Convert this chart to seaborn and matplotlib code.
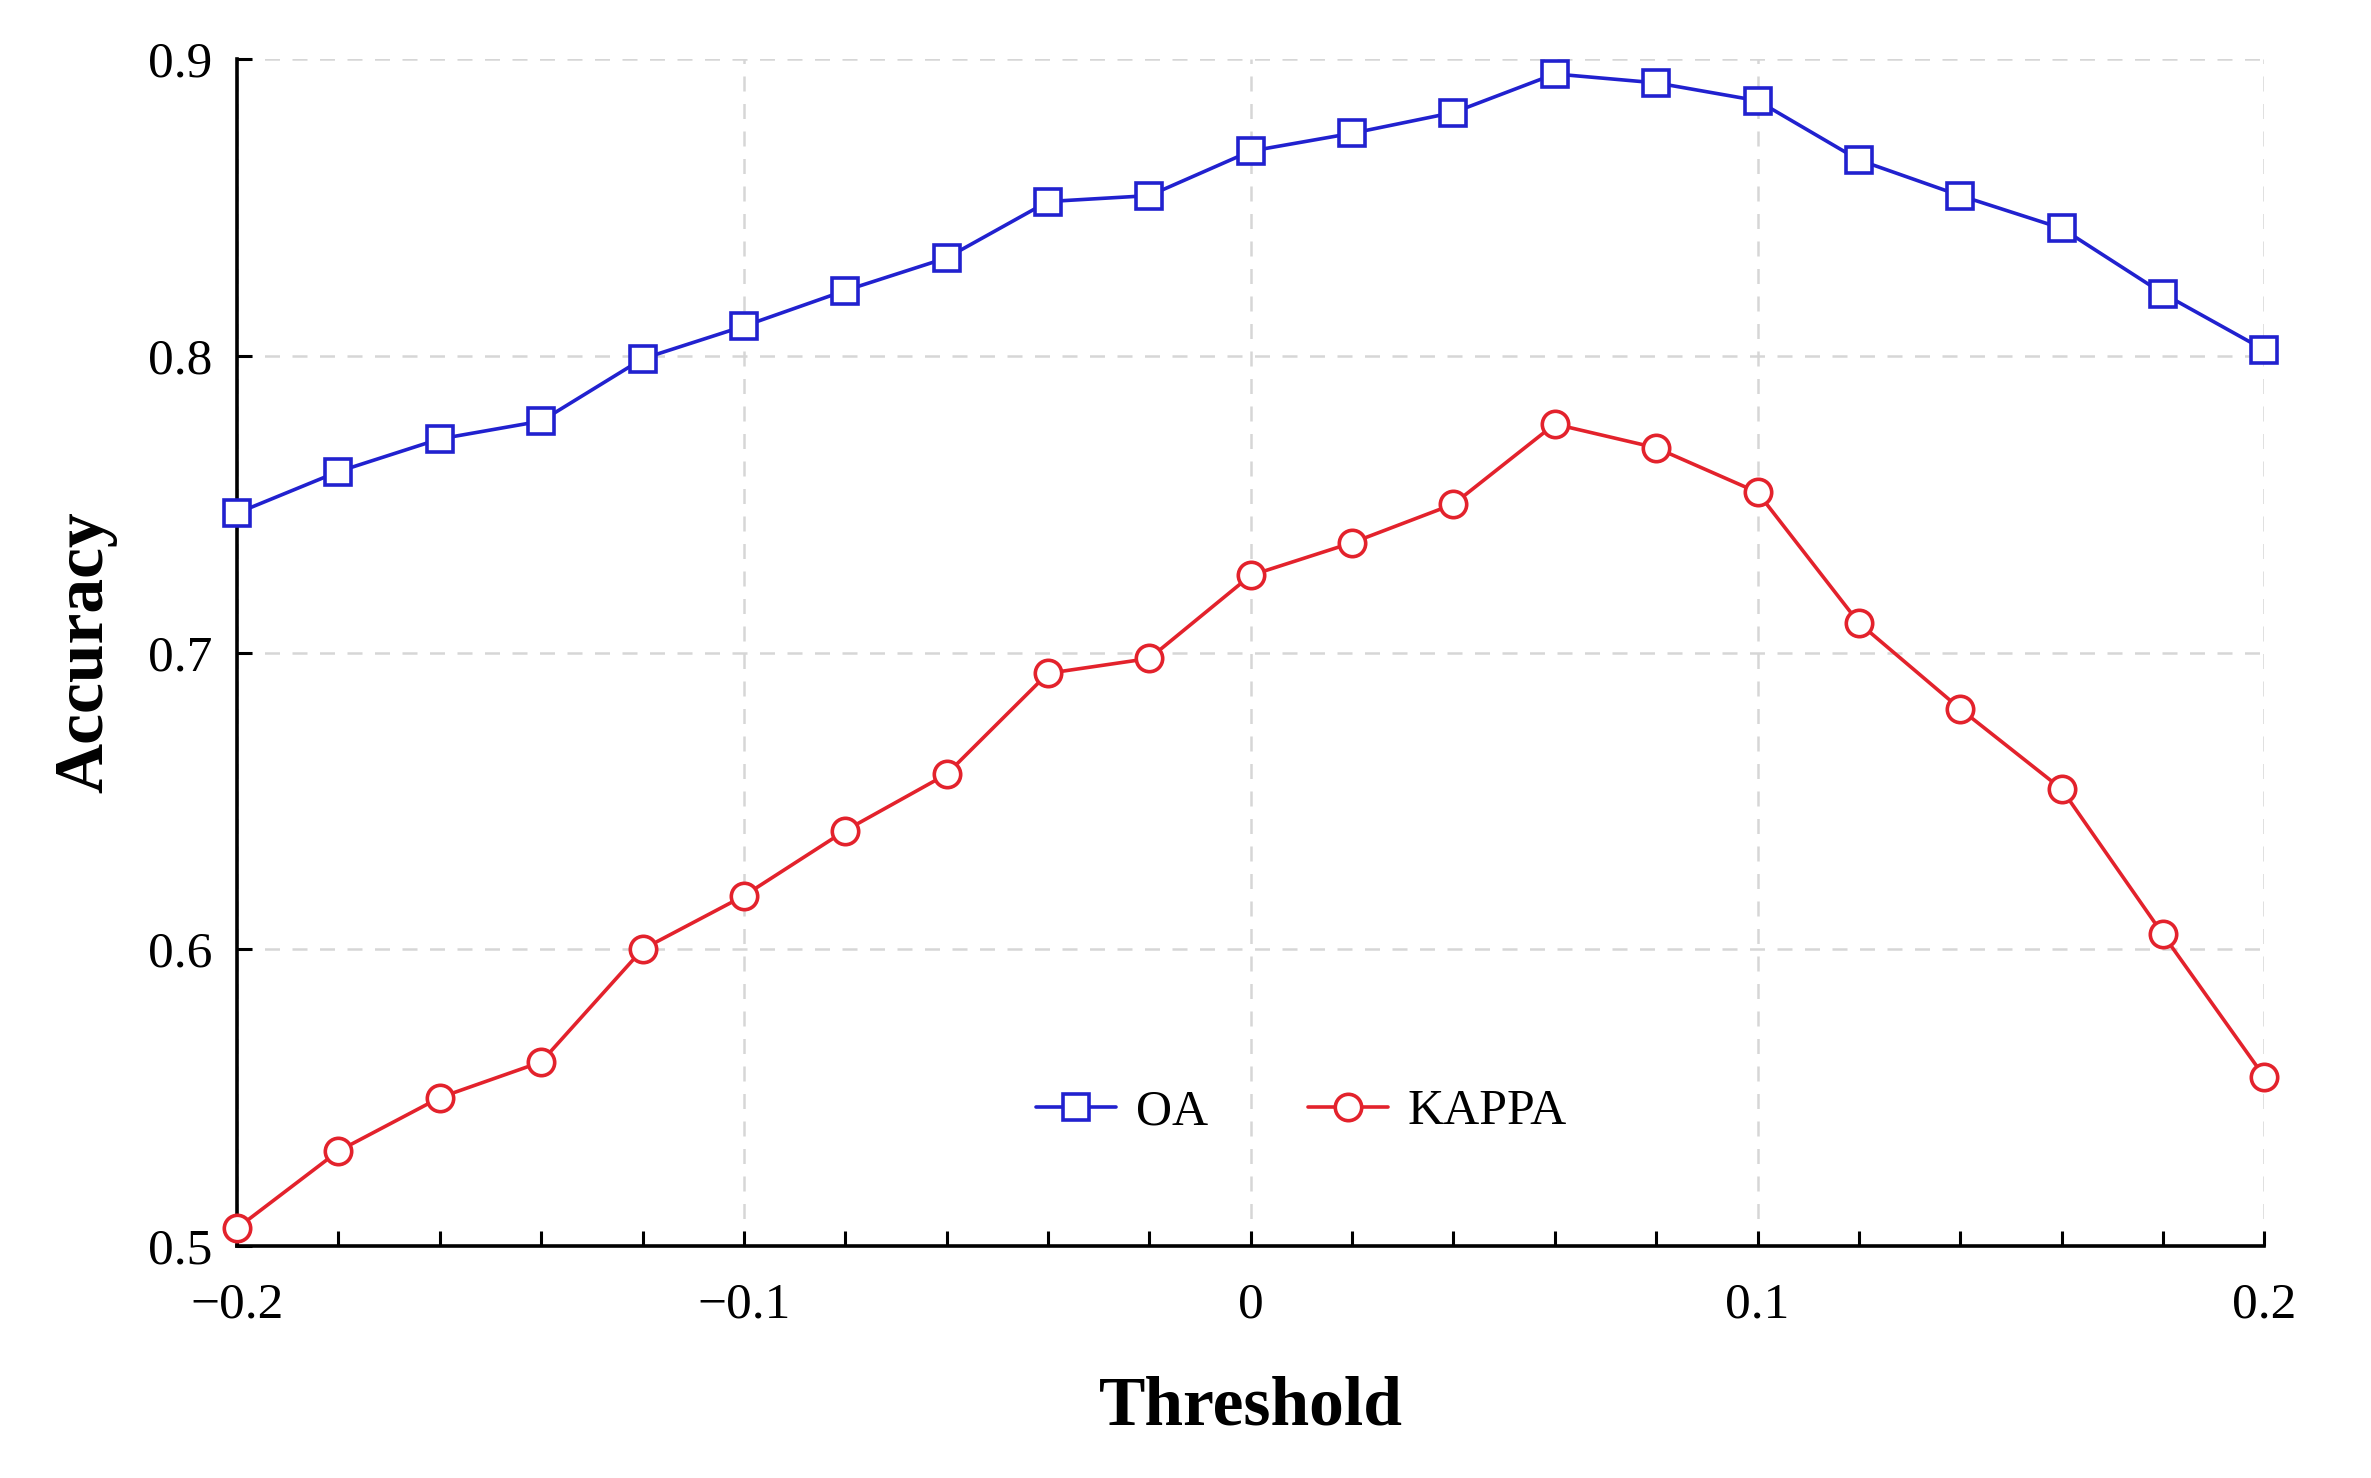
import numpy as np
import pandas as pd
import matplotlib
matplotlib.use("Agg")
import matplotlib.pyplot as plt
from matplotlib.ticker import MultipleLocator
import seaborn as sns

# threshold values and accuracies
threshold = [-0.20, -0.18, -0.16, -0.14, -0.12, -0.10, -0.08, -0.06, -0.04, -0.02, 0.00,
             0.02, 0.04, 0.06, 0.08, 0.10, 0.12, 0.14, 0.16, 0.18, 0.20]
oa = [0.747, 0.761, 0.772, 0.778, 0.799, 0.810, 0.822, 0.833, 0.852, 0.854, 0.869,
      0.875, 0.882, 0.895, 0.892, 0.886, 0.866, 0.854, 0.843, 0.821, 0.802]
kappa = [0.506, 0.532, 0.550, 0.562, 0.600, 0.618, 0.640, 0.659, 0.693, 0.698, 0.726,
         0.737, 0.750, 0.777, 0.769, 0.754, 0.710, 0.681, 0.654, 0.605, 0.557]

x_ticks = [-0.2, -0.1, 0, 0.1, 0.2]
x_ticklabels = ["\u22120.2", "\u22120.1", "0", "0.1", "0.2"]
y_ticks = [0.5, 0.6, 0.7, 0.8, 0.9]
y_ticklabels = ["0.5", "0.6", "0.7", "0.8", "0.9"]

df = pd.DataFrame({
    "Threshold": threshold * 2,
    "Accuracy": oa + kappa,
    "Metric": ["OA"] * len(oa) + ["KAPPA"] * len(kappa),
})

sns.set_style("white")
plt.rcParams["font.family"] = ["Liberation Serif", "DejaVu Serif"]
plt.rcParams["text.color"] = "black"
plt.rcParams["axes.labelcolor"] = "black"
plt.rcParams["xtick.color"] = "black"
plt.rcParams["ytick.color"] = "black"

fig = plt.figure(figsize=(23.71, 14.78), dpi=100)
ax = fig.add_axes([0.1, 0.157, 0.855, 0.803])

palette = {"OA": "#2121cf", "KAPPA": "#e3222c"}
markers = {"OA": "s", "KAPPA": "o"}
sns.lineplot(data=df, x="Threshold", y="Accuracy", hue="Metric", style="Metric",
             palette=palette, markers=markers, dashes=False, linewidth=2.6,
             markersize=19, markerfacecolor="white", markeredgewidth=2.6,
             ax=ax, clip_on=False, zorder=5, legend=False)

# outline the markers in the line colour
for line in ax.lines:
    line.set_markeredgecolor(line.get_color())

ax.set_xlim(-0.2, 0.2)
ax.set_ylim(0.5, 0.9)
ax.set_xticks(x_ticks)
ax.set_xticklabels(x_ticklabels)
ax.xaxis.set_minor_locator(MultipleLocator(0.02))
ax.set_yticks(y_ticks)
ax.set_yticklabels(y_ticklabels)

ax.grid(True, which="major", linestyle=(0, (6, 5)), color="#d6d6d6", linewidth=1.8)
for side in ["top", "right"]:
    ax.spines[side].set_visible(False)
for side in ["left", "bottom"]:
    ax.spines[side].set_color("black")
    ax.spines[side].set_linewidth(2.6)

ax.tick_params(axis="both", which="both", direction="in", length=11, width=2.2,
               color="black", labelcolor="black", labelsize=37,
               bottom=True, left=True, top=False, right=False)
ax.tick_params(axis="x", which="major", pad=26)
ax.tick_params(axis="y", which="major", pad=18)
ax.tick_params(axis="y", which="minor", left=False)

ax.set_xlabel("Threshold", fontsize=50, fontweight="bold", labelpad=34)
ax.set_ylabel("Accuracy", fontsize=50, fontweight="bold", labelpad=22)

handles = [
    plt.Line2D([], [], color=palette[k], marker=markers[k], markersize=19,
               markerfacecolor="white", markeredgecolor=palette[k],
               markeredgewidth=2.6, linewidth=2.6)
    for k in ["OA", "KAPPA"]
]
ax.legend(handles, ["OA", "KAPPA"], ncol=2, frameon=False, fontsize=36,
          loc="center", bbox_to_anchor=(0.525, 0.113),
          handlelength=1.6, handletextpad=0.4, columnspacing=2.0)

fig.savefig("out.png", dpi=100, facecolor="white")
